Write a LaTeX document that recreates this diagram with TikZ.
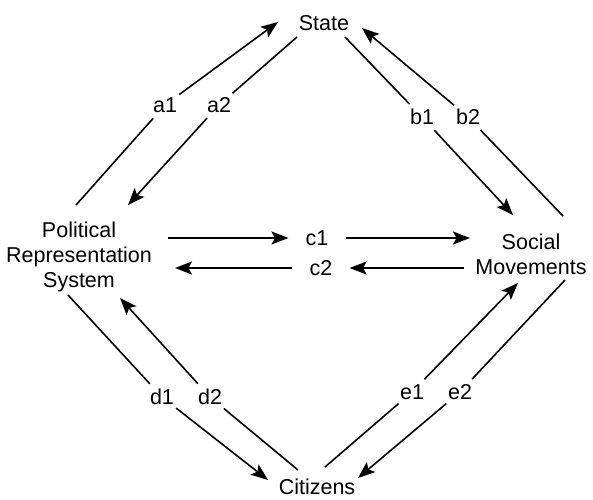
\documentclass[tikz,border=0pt]{standalone}
\usepackage{fontspec}
\setmainfont{Liberation Sans}
\usetikzlibrary{arrows.meta}
\begin{document}
\begin{tikzpicture}[x=1pt,y=-1pt,
  font=\fontsize{21.5}{25}\selectfont,
  ln/.style={line width=1.6pt},
  arr/.style={line width=1.6pt,-{Stealth[length=17pt,width=13pt,inset=3.5pt]}},
  lbl/.style={circle,inner sep=2.5pt},
  clbl/.style={rectangle,inner xsep=17pt,inner ysep=2pt},
  ent/.style={align=center,inner sep=0pt}]
\useasboundingbox (0,0) rectangle (593,499);
% main nodes
\node[ent] (state) at (324,23) {State};
\node[ent] (prs) at (79,257) {Political\\Representation\\System};
\node[ent] (sm) at (531,254) {Social\\Movements};
\node[ent] (cit) at (317,487) {Citizens};
% labels
\node[lbl] (a1) at (165,105) {a1};
\node[lbl] (a2) at (219,105) {a2};
\node[lbl] (b1) at (422,117) {b1};
\node[lbl] (b2) at (468,117) {b2};
\node[clbl] (c1) at (317,238) {c1};
\node[clbl] (c2) at (321,268) {c2};
\node[lbl] (d1) at (162,397) {d1};
\node[lbl] (d2) at (210,397) {d2};
\node[lbl] (e1) at (412,392) {e1};
\node[lbl] (e2) at (460,392) {e2};
% end points
\coordinate (a1s) at (76,205);  \coordinate (a1e) at (278,22);
\coordinate (a2s) at (297,37);  \coordinate (a2e) at (128,205);
\coordinate (b1s) at (345,37);  \coordinate (b1e) at (513,215);
\coordinate (b2s) at (563,216); \coordinate (b2e) at (362,28);
\coordinate (c1s) at (168,238); \coordinate (c1e) at (470,238);
\coordinate (c2s) at (464,268); \coordinate (c2e) at (175,268);
\coordinate (d1s) at (68,295);  \coordinate (d1e) at (268,480);
\coordinate (d2s) at (298,470); \coordinate (d2e) at (120,298);
\coordinate (e1s) at (325,467); \coordinate (e1e) at (518,283);
\coordinate (e2s) at (565,280); \coordinate (e2e) at (358,478);
% connectors
\foreach \n in {a1,a2,b1,b2,d1,d2,e1,e2}{
  \draw[ln] (\n s) -- (\n);
  \draw[arr] (\n) -- (\n e);
}
\draw[arr] (c1s) -- (c1.west);
\draw[arr] (c1.east) -- (c1e);
\draw[arr] (c2s) -- (c2.east);
\draw[arr] (c2.west) -- (c2e);
\end{tikzpicture}
\end{document}
